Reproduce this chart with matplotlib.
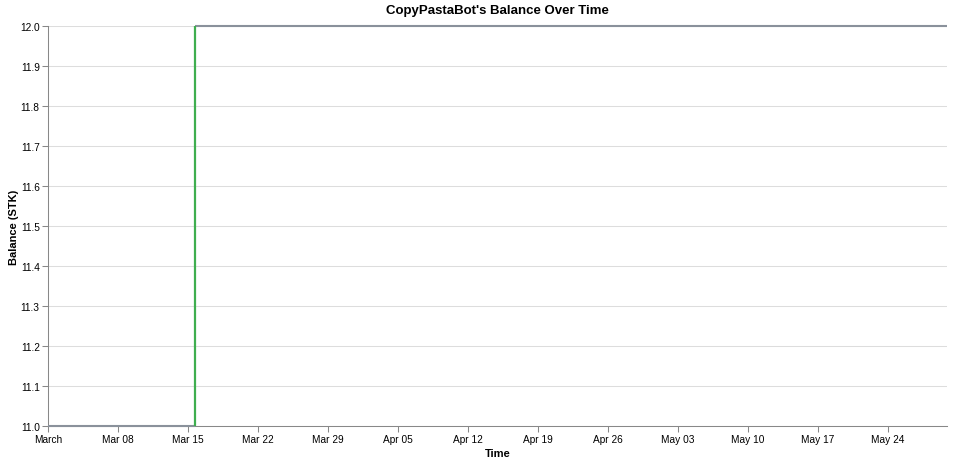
import matplotlib
matplotlib.use("Agg")
import matplotlib.pyplot as plt
import matplotlib.dates as mdates
import pandas as pd

plt.rcParams['font.family'] = ['Liberation Sans', 'DejaVu Sans']

# Data
times = ["2026-03-01 00:00", "2026-03-15 18:00", "2026-05-29 22:00"]
balances = [11.0, 12.0, 12.0]
tick_dates = ["2026-03-01", "2026-03-08", "2026-03-15", "2026-03-22", "2026-03-29",
              "2026-04-05", "2026-04-12", "2026-04-19", "2026-04-26", "2026-05-03",
              "2026-05-10", "2026-05-17", "2026-05-24"]
tick_labels = ["March", "Mar 08", "Mar 15", "Mar 22", "Mar 29", "Apr 05", "Apr 12",
               "Apr 19", "Apr 26", "May 03", "May 10", "May 17", "May 24"]
y_ticks = [11.0, 11.1, 11.2, 11.3, 11.4, 11.5, 11.6, 11.7, 11.8, 11.9, 12.0]

t = pd.to_datetime(times)
W, H = 954, 464
fig = plt.figure(figsize=(W / 100, H / 100), dpi=100)
ax = fig.add_axes([48 / W, (H - 427) / H, (947 - 48) / W, 400 / H])

grey = "#8a919b"
green = "#3fae4f"
# flat segments
ax.plot([t[0], t[1]], [balances[0], balances[0]], color=grey, lw=1.5, solid_capstyle='butt',
        zorder=3, clip_on=False)
ax.plot([t[1], t[2]], [balances[1], balances[2]], color=grey, lw=1.5, solid_capstyle='butt',
        zorder=3, clip_on=False)
# change segment
ax.plot([t[1], t[1]], [balances[0], balances[1]], color=green, lw=1.6, solid_capstyle='butt',
        zorder=4, clip_on=False)

ax.set_xlim(t[0], t[-1])
ax.set_ylim(11.0, 12.0)
ax.set_yticks(y_ticks)
ax.set_yticklabels([f"{v:.1f}" for v in y_ticks])
ax.set_xticks(pd.to_datetime(tick_dates))
ax.set_xticklabels(tick_labels)

ax.grid(True, axis='y', color='#dddddd', lw=0.75, zorder=0)
ax.set_axisbelow(True)
for s in ['top', 'right']:
    ax.spines[s].set_visible(False)
for s in ['left', 'bottom']:
    ax.spines[s].set_color('#888888')
    ax.spines[s].set_linewidth(0.75)
ax.tick_params(axis='both', colors='#888888', length=4, width=0.75, labelcolor='black', labelsize=7.3, pad=2)

ax.set_xlabel("Time", fontsize=8, fontweight='bold', labelpad=3)
ax.set_ylabel("Balance (STK)", fontsize=8, fontweight='bold', labelpad=1)
fig.text(497 / W, 1 - 11 / H, "CopyPastaBot's Balance Over Time", ha='center', va='center',
         fontsize=9.5, fontweight='bold')

fig.savefig("out.png", dpi=100, facecolor='white')
